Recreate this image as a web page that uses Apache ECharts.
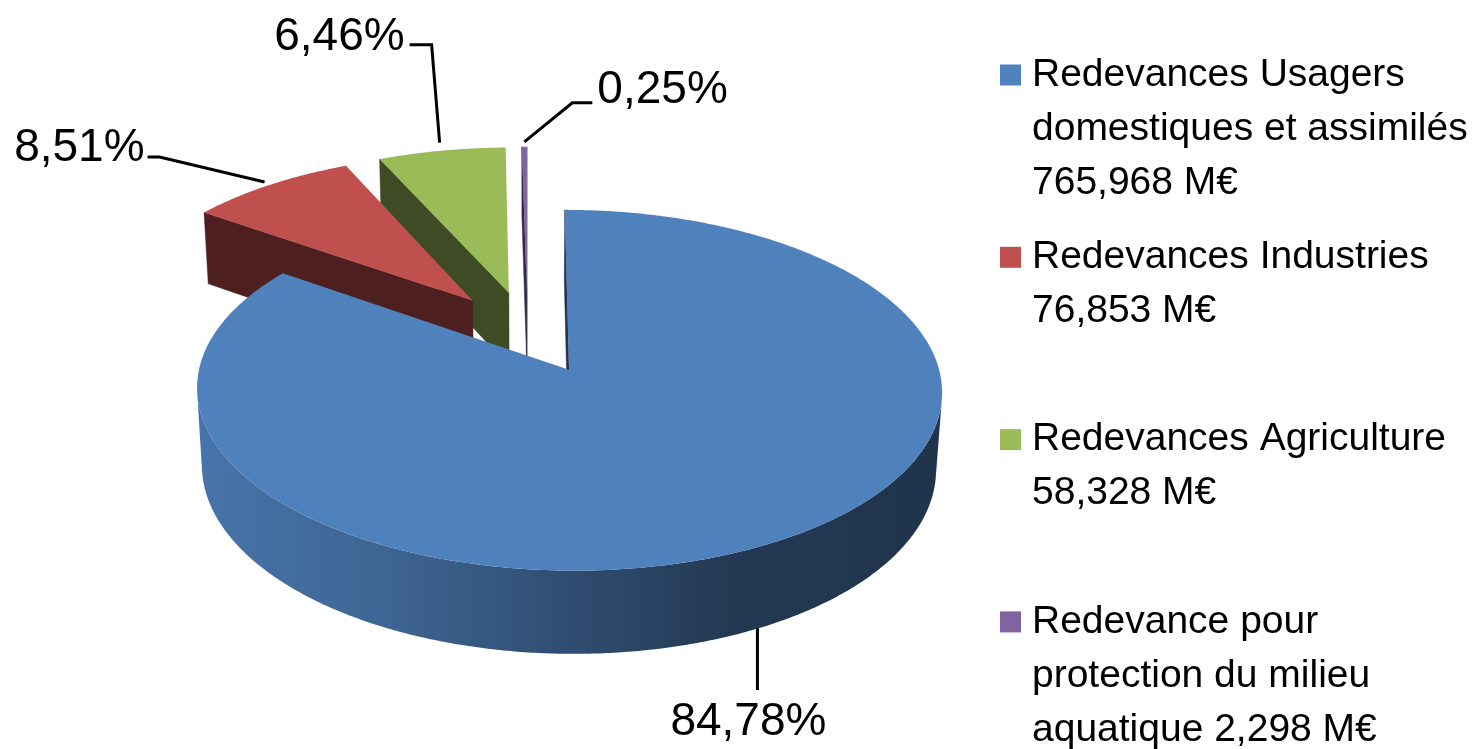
<!DOCTYPE html>
<html>
<head>
<meta charset="utf-8">
<script src="https://cdn.jsdelivr.net/npm/echarts@6/dist/echarts.min.js"></script>
<style>
html,body{margin:0;padding:0;background:#fff;}
#chart{width:1484px;height:749px;}
</style>
</head>
<body>
<div id="chart"></div>
<script>
// ---- data ----
const categories = [
  'Redevances Usagers domestiques et assimilés',
  'Redevances Industries',
  'Redevances Agriculture',
  'Redevance pour protection du milieu aquatique'
];
const values = [765.968, 76.853, 58.328, 2.298]; // M€
const unit = 'M€';
const legendWrap = [
  ['Redevances Usagers', 'domestiques et assimilés'],
  ['Redevances Industries'],
  ['Redevances Agriculture'],
  ['Redevance pour', 'protection du milieu', 'aquatique']
];
const legendValueInline = [false, false, false, true];

// ---- style / layout ----
const topColors = ['#4F81BD', '#C0504D', '#9BBB59', '#8064A2'];
const FONT = '"Liberation Sans", Arial, sans-serif';
const view = { cx: 527.5, cy: 332, focal: 2860, dist: 7.92, tilt: 28 * Math.PI / 180, depth: 0.24, explode: 0.244 };
const labelLayout = [
  { anchor: 'bottom', path: [[-2, 0], [-2, 62]], text: [-11, 94], align: 'center' },
  { anchor: 'top', path: [[-5, -3], [-110, -28], [-122, -28]], text: [-125, -37], align: 'right' },
  { anchor: 'top', path: [[-2, -8], [-10, -106], [-32, -106]], text: [-37, -113], align: 'right' },
  { anchor: 'top', path: [[0, -5], [48, -44], [68, -44]], text: [73, -56], align: 'left' }
];
const legendBox = { x: 1000, firstLine: 75, itemStep: 182.3, lineHeight: 54, square: 21, textX: 1032, fontSize: 39 };

const total = values.reduce((a, b) => a + b, 0);
const fmtNum = (v, d) => v.toFixed(d).replace('.', ',');

function shade(hex, f) {
  const n = parseInt(hex.slice(1), 16);
  const r = Math.round(((n >> 16) & 255) * f), g = Math.round(((n >> 8) & 255) * f), b = Math.round((n & 255) * f);
  return 'rgb(' + r + ',' + g + ',' + b + ')';
}

const sT = Math.sin(view.tilt), cT = Math.cos(view.tilt);
const cam = [0, view.dist * sT, view.dist * cT];
function proj(x, y, z) {
  const yc = y * cT - z * sT;
  const d = view.dist - (y * sT + z * cT);
  return [view.cx + view.focal * x / d, view.cy - view.focal * yc / d];
}
function angles(i) {
  let start = 0;
  for (let k = 0; k < i; k++) start += values[k];
  const a0 = start / total * Math.PI * 2;
  const a1 = (start + values[i]) / total * Math.PI * 2;
  return [a0, a1];
}
// draw order: farther slices first
const order = values.map((v, i) => {
  const [a0, a1] = angles(i); return { i, z: -Math.cos((a0 + a1) / 2) };
}).sort((a, b) => a.z - b.z).map(o => o.i);

function renderItem(params, api) {
  const i = params.dataIndex;
  const v = api.value(0);
  const [a0, a1] = angles(i);
  const mid = (a0 + a1) / 2;
  const ox = view.explode * Math.sin(mid), oz = -view.explode * Math.cos(mid);
  const H = view.depth;
  const pt = (a, r, y) => proj(ox + r * Math.sin(a), y, oz - r * Math.cos(a));
  const n = Math.max(2, Math.ceil((a1 - a0) / (Math.PI / 360)));
  const arcA = [];
  for (let k = 0; k <= n; k++) arcA.push(a0 + (a1 - a0) * k / n);
  const rank = order.indexOf(i);
  const base = rank * 10;
  const children = [];
  const topC = topColors[i];
  const faceC = shade(topC, 0.4);

  // outer curved side (visible part)
  const vis = arcA.filter(a => {
    const px = ox + Math.sin(a), pz = oz - Math.cos(a);
    return Math.sin(a) * (cam[0] - px) + (-Math.cos(a)) * (cam[2] - pz) > 0;
  });
  if (vis.length > 1) {
    const pts = vis.map(a => pt(a, 1, 0)).concat(vis.slice().reverse().map(a => pt(a, 1, -H)));
    const left = proj(ox - 1, 0, oz)[0], right = proj(ox + 1, 0, oz)[0];
    children.push({
      type: 'polygon', z2: base + 1, shape: { points: pts },
      style: {
        fill: { type: 'linear', x: left, y: 0, x2: right, y2: 0, global: true,
          colorStops: [
            { offset: 0, color: shade(topC, 0.9) },
            { offset: 0.25, color: shade(topC, 0.78) },
            { offset: 0.5, color: shade(topC, 0.6) },
            { offset: 0.72, color: shade(topC, 0.44) },
            { offset: 1, color: shade(topC, 0.4) }
          ] },
        stroke: null
      }
    });
  }
  // radial faces
  const center = [ox, 0, oz];
  const faceVisible = (nx, nz) => nx * (cam[0] - center[0]) + nz * (cam[2] - center[2]) > 0;
  [[a0, -Math.cos(a0), -Math.sin(a0)], [a1, Math.cos(a1), Math.sin(a1)]].forEach(([a, nx, nz]) => {
    if (faceVisible(nx, nz)) {
      children.push({
        type: 'polygon', z2: base + 2,
        shape: { points: [proj(ox, 0, oz), pt(a, 1, 0), pt(a, 1, -H), proj(ox, -H, oz)] },
        style: { fill: faceC, stroke: faceC, lineWidth: 0.5 }
      });
    }
  });
  // top face
  const topPts = [proj(ox, 0, oz)].concat(arcA.map(a => pt(a, 1, 0)));
  children.push({
    type: 'polygon', z2: base + 5, shape: { points: topPts },
    style: { fill: topC, stroke: null }
  });

  // label + leader
  const L = labelLayout[i];
  const anc = L.anchor === 'bottom' ? pt(mid, 1, -H) : pt(mid, 1, 0);
  children.push({
    type: 'polyline', z2: 100,
    shape: { points: L.path.map(p => [anc[0] + p[0], anc[1] + p[1]]) },
    style: { stroke: '#000', lineWidth: 3, fill: null }
  });
  children.push({
    type: 'text', z2: 101,
    style: {
      text: fmtNum(v / total * 100, 2) + '%',
      x: anc[0] + L.text[0], y: anc[1] + L.text[1],
      fontSize: 46, fontFamily: FONT, fill: '#000',
      align: L.align, verticalAlign: 'middle'
    }
  });
  return { type: 'group', children };
}

// legend built from data
const legendElements = [];
values.forEach((v, i) => {
  const lines = legendWrap[i].slice();
  const vt = fmtNum(v, 3) + ' ' + unit;
  if (legendValueInline[i]) lines[lines.length - 1] += ' ' + vt; else lines.push(vt);
  const cy = legendBox.firstLine + i * legendBox.itemStep;
  legendElements.push({
    type: 'rect',
    shape: { x: legendBox.x, y: cy - legendBox.square / 2, width: legendBox.square, height: legendBox.square },
    style: { fill: topColors[i] }
  });
  legendElements.push({
    type: 'text',
    style: {
      text: lines.join('\n'), x: legendBox.textX, y: cy - legendBox.lineHeight / 2,
      fontSize: legendBox.fontSize, fontFamily: FONT, fill: '#000',
      lineHeight: legendBox.lineHeight, align: 'left', verticalAlign: 'top'
    }
  });
});

const chart = echarts.init(document.getElementById('chart'), null, { renderer: 'canvas' });
chart.setOption({
  backgroundColor: '#fff',
  animation: false,
  graphic: { elements: legendElements },
  series: [{
    type: 'custom',
    name: 'Redevances',
    coordinateSystem: 'none',
    silent: true,
    renderItem: renderItem,
    data: values.map((v, i) => ({ name: categories[i], value: [v] }))
  }]
});
</script>
</body>
</html>
